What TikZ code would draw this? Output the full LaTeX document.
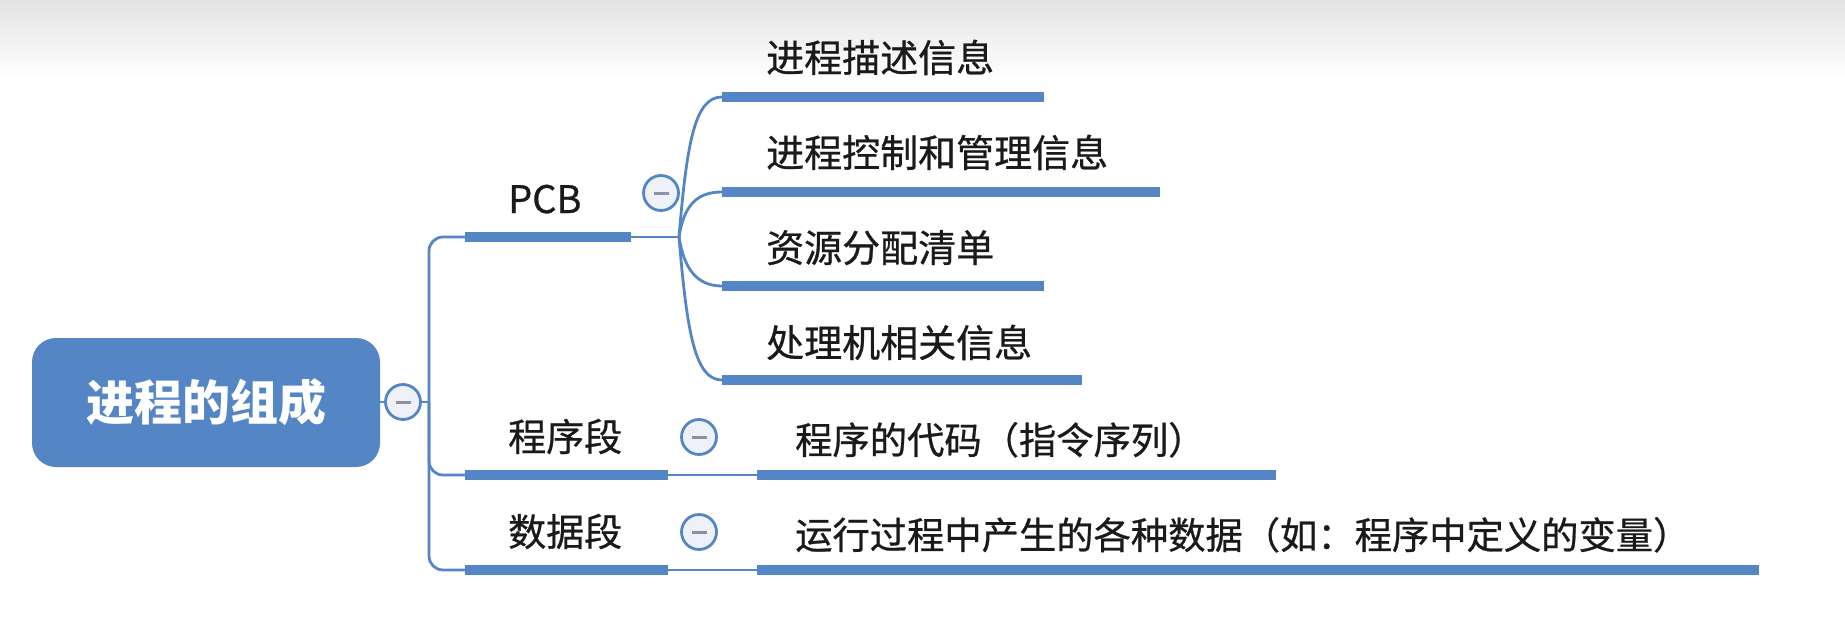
\documentclass[tikz,border=0pt]{standalone}
\usepackage{fontspec}
\setmainfont{Noto Sans CJK SC}
\newfontfamily\lblfont{Noto Sans CJK SC}[FakeBold=0.7]
\definecolor{mblue}{HTML}{5486C5}
\definecolor{cfill}{HTML}{EEF1F7}
\definecolor{mgray}{HTML}{8C90A0}
\definecolor{txt}{HTML}{1A1A1A}
\begin{document}
\begin{tikzpicture}[x=1pt,y=-1pt,
  bar/.style={line width=10.5pt, draw=mblue},
  conn/.style={line width=2.8pt, draw=mblue},
  lbl/.style={anchor=base west, inner sep=0pt, text=txt, font=\lblfont\fontsize{38}{40}\selectfont},
  lbls/.style={anchor=base west, inner sep=0pt, text=txt, font=\lblfont\fontsize{37.3}{40}\selectfont},
  fold/.style={circle, draw=mblue, line width=2.8pt, fill=cfill, minimum size=35pt, inner sep=0pt},
  minus/.style={line width=3pt, draw=mgray},
  rootbox/.style={rounded corners=24pt, fill=mblue, minimum width=348pt, minimum height=129pt, inner sep=0pt, text=white, font=\fontsize{48}{50}\selectfont\bfseries}]
\useasboundingbox (0,0) rectangle (1845,632);
\shade[top color=black!11, bottom color=white] (0,0) rectangle (1845,78);

% root
\node[rootbox] (root) at (206,402.5) {进程的组成};
\node[fold] (c0) at (403,402) {};
\draw[minus] ([xshift=-7.5pt]c0.center) -- ([xshift=7.5pt]c0.center);
\coordinate (trunk) at (429,402);
\draw[conn] (root.east |- c0) -- (c0.west);
\draw[conn] (c0.east) -- (trunk);

% first-level bars
\coordinate (pcbA) at (465,237);  \coordinate (pcbB) at (631,237);
\coordinate (prgA) at (465,475);  \coordinate (prgB) at (668,475);
\coordinate (datA) at (465,570);  \coordinate (datB) at (668,570);
\draw[conn, rounded corners=14pt] (trunk) |- (pcbA);
\draw[conn, rounded corners=14pt] (trunk) |- (prgA);
\draw[conn, rounded corners=14pt] (trunk) |- (datA);
\draw[bar] (pcbA) -- (pcbB);
\draw[bar] (prgA) -- (prgB);
\draw[bar] (datA) -- (datB);
\node[lbl] (pcb) at (508,213) {PCB};
\node[lbl] (prg) at (508,451) {程序段};
\node[lbl] (dat) at (508,546) {数据段};

% PCB children
\coordinate (pj) at (679,237);
\draw[conn] (pcbB) -- (pj);
\node[fold] (c1) at (661,193) {};
\draw[minus] ([xshift=-7.5pt]c1.center) -- ([xshift=7.5pt]c1.center);
\coordinate (k1a) at (722,97);  \coordinate (k1b) at (1044,97);
\coordinate (k2a) at (722,192); \coordinate (k2b) at (1160,192);
\coordinate (k3a) at (722,286); \coordinate (k3b) at (1044,286);
\coordinate (k4a) at (722,380); \coordinate (k4b) at (1082,380);
\draw[conn] (pj) .. controls +(8,-96) and +(-27,0) .. (k1a);
\draw[conn] (pj) .. controls +(5,-32) and +(-25,0) .. (k2a);
\draw[conn] (pj) .. controls +(5,32) and +(-25,0) .. (k3a);
\draw[conn] (pj) .. controls +(8,96) and +(-27,0) .. (k4a);
\draw[bar] (k1a) -- (k1b);
\draw[bar] (k2a) -- (k2b);
\draw[bar] (k3a) -- (k3b);
\draw[bar] (k4a) -- (k4b);
\node[lbl] (t1) at (766,72) {进程描述信息};
\node[lbl] (t2) at (766,167) {进程控制和管理信息};
\node[lbl] (t3) at (766,262) {资源分配清单};
\node[lbl] (t4) at (766,357) {处理机相关信息};

% 程序段 child
\node[fold] (c2) at (699,437) {};
\draw[minus] ([xshift=-7.5pt]c2.center) -- ([xshift=7.5pt]c2.center);
\coordinate (p1a) at (757,475); \coordinate (p1b) at (1276,475);
\draw[conn] (prgB) -- (p1a);
\draw[bar] (p1a) -- (p1b);
\node[lbls] (pt) at (795,454) {程序的代码（指令序列）};

% 数据段 child
\node[fold] (c3) at (699,532) {};
\draw[minus] ([xshift=-7.5pt]c3.center) -- ([xshift=7.5pt]c3.center);
\coordinate (d1a) at (757,570); \coordinate (d1b) at (1759,570);
\draw[conn] (datB) -- (d1a);
\draw[bar] (d1a) -- (d1b);
\node[lbls] (dt) at (795,549) {运行过程中产生的各种数据（如：程序中定义的变量）};
\end{tikzpicture}
\end{document}
